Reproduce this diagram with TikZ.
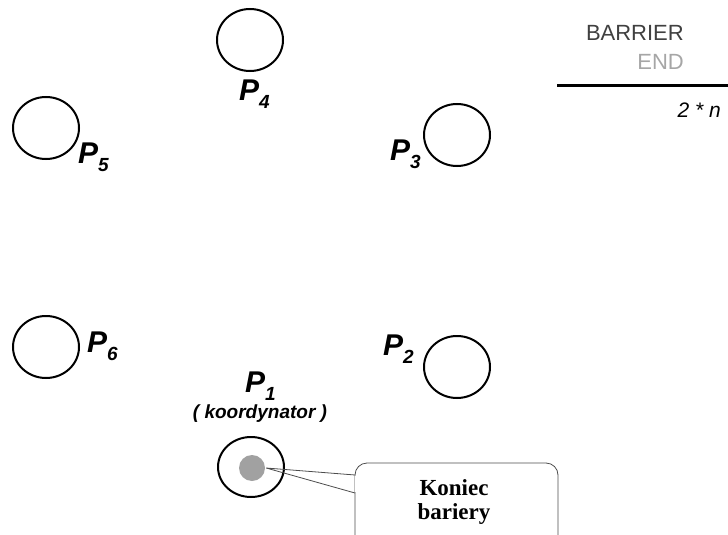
\documentclass[tikz,border=0pt]{standalone}
\usepackage{fontspec}
\setmainfont{Liberation Sans}
\newfontfamily\calloutfont{Liberation Serif}
\usetikzlibrary{shapes.geometric}

\tikzset{
  proc/.style={ellipse, draw, line width=2pt, minimum width=66pt,
    minimum height=62pt, inner sep=0pt},
  plabel/.style={anchor=base west, inner sep=0pt,
    font=\fontsize{30}{30}\selectfont\bfseries\itshape},
  rolelabel/.style={anchor=base, inner sep=0pt,
    font=\fontsize{19}{19}\selectfont\bfseries\itshape},
  token/.style={circle, fill=black!37, draw=none, minimum size=26pt, inner sep=0pt},
  msgtext/.style={anchor=center, inner sep=0pt, align=center,
    font=\fontsize{23}{24}\selectfont\calloutfont\bfseries},
  msgbox/.style={draw=black!70, line width=0.8pt, rounded corners=12pt,
    minimum width=203pt, minimum height=87pt, inner sep=0pt},
  pointer/.style={draw=black!70, line width=0.8pt},
  headtext/.style={anchor=base east, inner sep=0pt,
    font=\fontsize{22}{22}\selectfont},
}
\newcommand{\pname}[1]{P\raisebox{-8pt}{\fontsize{19}{19}\selectfont #1}}

\begin{document}
\begin{tikzpicture}[x=1pt,y=-1pt]
\useasboundingbox (0,0) rectangle (728,535);
\clip (0,0) rectangle (728,535);

% processes
\node[proc] (p4) at (250,40) {};
\node[proc] (p5) at (46,128) {};
\node[proc] (p3) at (457,135) {};
\node[proc] (p6) at (46,347) {};
\node[proc] (p2) at (457,367) {};
\node[proc, minimum height=60pt] (p1) at (251,467) {};
\node[token] (tok) at (252,468) {};

% process names
\node[plabel] (l4) at (239,100) {\pname{4}};
\node[plabel] (l5) at (78,163) {\pname{5}};
\node[plabel] (l3) at (390,160) {\pname{3}};
\node[plabel] (l6) at (87,352) {\pname{6}};
\node[plabel] (l2) at (383,355) {\pname{2}};
\node[plabel] (l1) at (245,392) {\pname{1}};
\node[rolelabel] (role) at (260,418) {( koordynator )};

% message header
\node[headtext, text=black!75] (bar) at (684,41) {BARRIER};
\node[headtext, text=black!35] (end) at (684,70) {END};
\coordinate (ruleL) at (557,85);
\coordinate (ruleR) at (728,85);
\draw[line width=3pt] (ruleL) -- (ruleR);
\node[headtext, font=\fontsize{21}{21}\selectfont\itshape] (cnt) at (721,117) {2 * n};

% callout with its pointer to the token
\node[msgbox] (box) at (456.5,506.5) {};
\coordinate (pa) at (355,475);
\coordinate (pb) at (355,493);
\coordinate (tip) at ([xshift=1pt]tok.east);
\fill[white] ([yshift=-0.6pt]pa) rectangle ([xshift=1.5pt,yshift=0.6pt]pb);
\draw[pointer] (pa) -- (tip) -- (pb);
\node[msgtext] (msg) at (454,502) {Koniec\\bariery};
\end{tikzpicture}
\end{document}
